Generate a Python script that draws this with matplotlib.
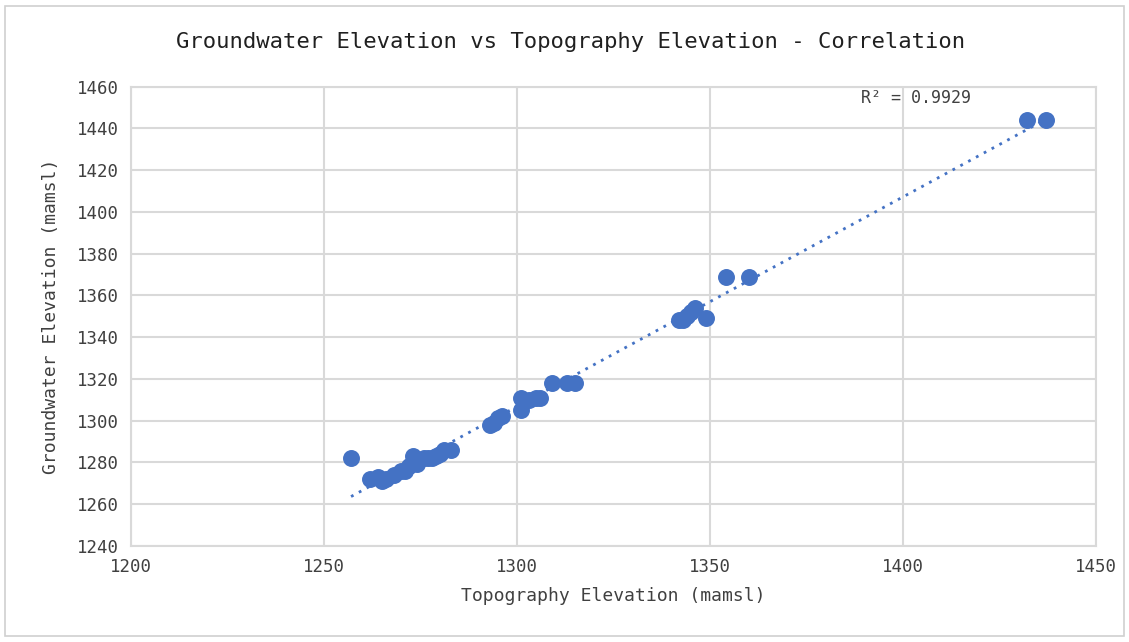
import numpy as np
import matplotlib
matplotlib.use("Agg")
import matplotlib.pyplot as plt

# topography vs groundwater elevation (mamsl)
topo = [1257, 1262, 1264, 1265, 1266, 1268, 1270, 1271, 1272, 1273, 1274,
        1276, 1277, 1278, 1279, 1280, 1281, 1283,
        1293, 1294, 1295, 1296, 1301, 1301, 1303, 1305, 1306, 1309, 1313, 1315,
        1342, 1343, 1344, 1345, 1346, 1349, 1354, 1360,
        1432, 1437]
gw = [1282, 1272, 1273, 1271, 1272, 1274, 1276, 1276, 1278, 1283, 1279,
      1282, 1282, 1282, 1283, 1284, 1286, 1286,
      1298, 1299, 1301, 1302, 1305, 1311, 1310, 1311, 1311, 1318, 1318, 1318,
      1348, 1348, 1350, 1352, 1354, 1349, 1369, 1369,
      1444, 1444]

blue = "#4472C4"
grid = "#d9d9d9"
text_col = "#404040"
font = "DejaVu Sans Mono"

fig = plt.figure(figsize=(11.29, 6.42), dpi=100)
fig.patches.append(plt.Rectangle((0.004, 0.01), 0.992, 0.98, transform=fig.transFigure,
                                 fill=False, edgecolor="#d0d0d0", linewidth=1.2))
ax = fig.add_axes([0.116, 0.15, 0.855, 0.715])

ax.scatter(topo, gw, s=125, color=blue, zorder=3)

# linear trendline
slope, intercept = np.polyfit(topo, gw, 1)
xs = np.array([min(topo), max(topo)])
ax.plot(xs, slope * xs + intercept, linestyle=(0, (1, 2.2)), color=blue, linewidth=2, zorder=2)

ax.text(0.756, 0.975, "R² = 0.9929", transform=ax.transAxes, fontsize=12,
        family=font, color=text_col, ha="left", va="center")

ax.set_xlim(1200, 1450)
ax.set_ylim(1240, 1460)
ax.set_xticks(np.arange(1200, 1451, 50))
ax.set_yticks(np.arange(1240, 1461, 20))
ax.grid(True, color=grid, linewidth=1.5)
ax.set_axisbelow(True)
for s in ax.spines.values():
    s.set_color(grid)
    s.set_linewidth(1.5)
ax.tick_params(length=0, labelsize=12.5, labelcolor=text_col, pad=9)
for lbl in ax.get_xticklabels() + ax.get_yticklabels():
    lbl.set_family(font)

ax.set_xlabel("Topography Elevation (mamsl)", fontsize=13, family=font, color=text_col, labelpad=8)
ax.set_ylabel("Groundwater Elevation (mamsl)", fontsize=13, family=font, color=text_col, labelpad=12)
fig.text(0.505, 0.935, "Groundwater Elevation vs Topography Elevation - Correlation",
         ha="center", va="center", fontsize=16, family=font, color="#202020")

fig.savefig("out.png", dpi=100)
